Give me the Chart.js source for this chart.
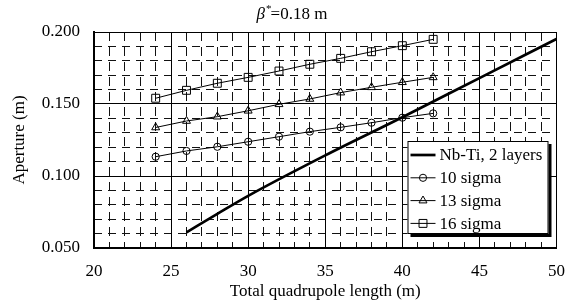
<!DOCTYPE html>
<html><head><meta charset="utf-8">
<script src="https://cdn.jsdelivr.net/npm/chart.js@4"></script>
<style>html,body{margin:0;padding:0;background:#fff}#wrap{width:578px;height:304px}</style>
</head><body><div id="wrap"><canvas id="c" width="578" height="304"></canvas></div>
<script>
// ---- data ----
const sigmaLengths = [24, 26, 28, 30, 32, 34, 36, 38, 40, 42];
const sigma10 = [0.1134, 0.1174, 0.1203, 0.1238, 0.1273, 0.1308, 0.1338, 0.1370, 0.1405, 0.1435];
const sigma13 = [0.1337, 0.1382, 0.1412, 0.1453, 0.1498, 0.1535, 0.1579, 0.1616, 0.1651, 0.1685];
const sigma16 = [0.1540, 0.1595, 0.1644, 0.1685, 0.1729, 0.1776, 0.1817, 0.1863, 0.1905, 0.1949];
const nbtiLengths = [26, 28, 30, 35, 40, 45, 50];
const nbtiAperture = [0.0609, 0.0737, 0.0862, 0.1143, 0.1408, 0.1680, 0.1951];
const seriesNames = ['Nb-Ti, 2 layers', '10 sigma', '13 sigma', '16 sigma'];
const xRange = [20, 50];
const yRange = [0.05, 0.2];
const titleParts = ['\u03B2', '*', '=0.18 m'];
const xTitle = 'Total quadrupole length (m)';
const yTitle = 'Aperture (m)';

const pts = (xs, ys) => xs.map((x, i) => ({x: x, y: ys[i]}));
const FONT = 'Liberation Serif';
Chart.defaults.font.family = FONT;
Chart.defaults.color = '#000';

const marker = {borderColor: '#000', borderWidth: 1, pointBackgroundColor: 'rgba(0,0,0,0)',
  pointBorderColor: '#000', pointBorderWidth: 1, tension: 0, xAxisID: 'x', yAxisID: 'y'};

const datasets = [
  {label: seriesNames[0], data: pts(nbtiLengths, nbtiAperture), borderColor: '#000', borderWidth: 2.7,
   pointRadius: 0, cubicInterpolationMode: 'monotone', xAxisID: 'x', yAxisID: 'y'},
  Object.assign({label: seriesNames[1], data: pts(sigmaLengths, sigma10), pointStyle: 'circle', pointRadius: 3.6}, marker),
  Object.assign({label: seriesNames[2], data: pts(sigmaLengths, sigma13), pointStyle: 'triangle', pointRadius: 4.6}, marker),
  Object.assign({label: seriesNames[3], data: pts(sigmaLengths, sigma16), pointStyle: 'rect', pointRadius: 5.6}, marker)
];

function drawMarker(ctx, style, r, x, y) {
  ctx.beginPath();
  if (style === 'circle') {
    ctx.arc(x, y, r, 0, Math.PI * 2);
  } else if (style === 'triangle') {
    for (let k = 0; k < 3; k++) {
      const a = k * 2 * Math.PI / 3;
      const px = x + Math.sin(a) * r, py = y - Math.cos(a) * r;
      if (k === 0) ctx.moveTo(px, py); else ctx.lineTo(px, py);
    }
    ctx.closePath();
  } else if (style === 'rect') {
    const s = r * Math.SQRT1_2;
    ctx.rect(x - s, y - s, 2 * s, 2 * s);
  }
  ctx.stroke();
}

const overlay = {
  id: 'overlay',
  afterDraw(chart) {
    const ctx = chart.ctx, ca = chart.chartArea;
    ctx.save();
    // title
    ctx.fillStyle = '#000';
    ctx.textBaseline = 'middle';
    const fBig = '17px "' + FONT + '"', fIt = 'italic 17px "' + FONT + '"', fSm = '11px "' + FONT + '"';
    ctx.font = fIt; const w0 = ctx.measureText(titleParts[0]).width;
    ctx.font = fSm; const w1 = ctx.measureText(titleParts[1]).width;
    ctx.font = fBig; const w2 = ctx.measureText(titleParts[2]).width;
    let tx = chart.width / 2 + 3 - (w0 + w1 + w2) / 2;
    const ty = 15;
    ctx.textAlign = 'left';
    ctx.font = fIt; ctx.fillText(titleParts[0], tx, ty); tx += w0 + 1;
    ctx.font = fSm; ctx.fillText(titleParts[1], tx, ty - 6); tx += w1 - 1;
    ctx.font = fBig; ctx.fillText(titleParts[2], tx, ty);

    // legend
    const bw = 141, bh = 93;
    const bx = ca.right - 8 - bw, by = ca.bottom - 14 - bh;
    ctx.fillStyle = '#000';
    ctx.fillRect(bx + 3, by + 3, bw, bh);
    ctx.fillStyle = '#fff';
    ctx.fillRect(bx, by, bw, bh);
    ctx.strokeStyle = '#000'; ctx.lineWidth = 1;
    ctx.strokeRect(bx + 0.5, by + 0.5, bw - 1, bh - 1);
    const rowH = 22.8;
    chart.data.datasets.forEach((ds, i) => {
      const ry = by + 14 + i * rowH;
      ctx.strokeStyle = '#000';
      ctx.lineWidth = i === 0 ? 2.7 : 1;
      ctx.beginPath(); ctx.moveTo(bx + 3, ry); ctx.lineTo(bx + 28, ry); ctx.stroke();
      if (i > 0) { ctx.lineWidth = 1; drawMarker(ctx, ds.pointStyle, ds.pointRadius, bx + 15.5, ry); }
      ctx.fillStyle = '#000'; ctx.font = fBig; ctx.textAlign = 'left'; ctx.textBaseline = 'middle';
      ctx.fillText(ds.label, bx + 32, ry + 1);
    });
    ctx.restore();
  }
};

const tickFont = {family: FONT, size: 17};

new Chart(document.getElementById('c'), {
  type: 'line',
  data: {datasets: datasets},
  options: {
    responsive: false, animation: false, devicePixelRatio: 1,
    layout: {padding: {top: 32, right: 19, left: 0, bottom: 0}},
    plugins: {legend: {display: false}, title: {display: false}, tooltip: {enabled: false}},
    scales: {
      xMinor: {type: 'linear', axis: 'x', position: 'bottom', min: xRange[0], max: xRange[1],
        ticks: {display: false, stepSize: 1, maxTicksLimit: 200},
        grid: {color: '#111', lineWidth: 1, drawTicks: false},
        border: {display: false, dash: [9, 6]},
        afterFit(s) { s.height = 0; }},
      yMinor: {type: 'linear', axis: 'y', position: 'left', min: yRange[0], max: yRange[1],
        ticks: {display: false, stepSize: 0.01, maxTicksLimit: 200},
        grid: {color: '#111', lineWidth: 1, drawTicks: false},
        border: {display: false, dash: [8, 6]},
        afterFit(s) { s.width = 0; }},
      x: {type: 'linear', axis: 'x', position: 'bottom', min: xRange[0], max: xRange[1],
        ticks: {stepSize: 5, font: tickFont, color: '#000', padding: 13, maxRotation: 0, autoSkip: false},
        grid: {color: '#000', lineWidth: 1, drawTicks: false},
        border: {color: '#000', width: 2},
        title: {display: true, text: xTitle, font: tickFont, color: '#000', padding: {top: 0, bottom: 2}},
        afterFit(s) { s.height = 56; }},
      y: {type: 'linear', axis: 'y', position: 'left', min: yRange[0], max: yRange[1],
        ticks: {stepSize: 0.05, font: tickFont, color: '#000', padding: 14, callback: v => v.toFixed(3)},
        grid: {color: '#000', lineWidth: 1, drawTicks: false},
        border: {color: '#000', width: 2},
        title: {display: true, text: yTitle, font: tickFont, color: '#000', padding: {top: 9, bottom: 0}},
        afterFit(s) { s.width = 94; }}
    }
  },
  plugins: [overlay]
});
</script>
</body></html>
